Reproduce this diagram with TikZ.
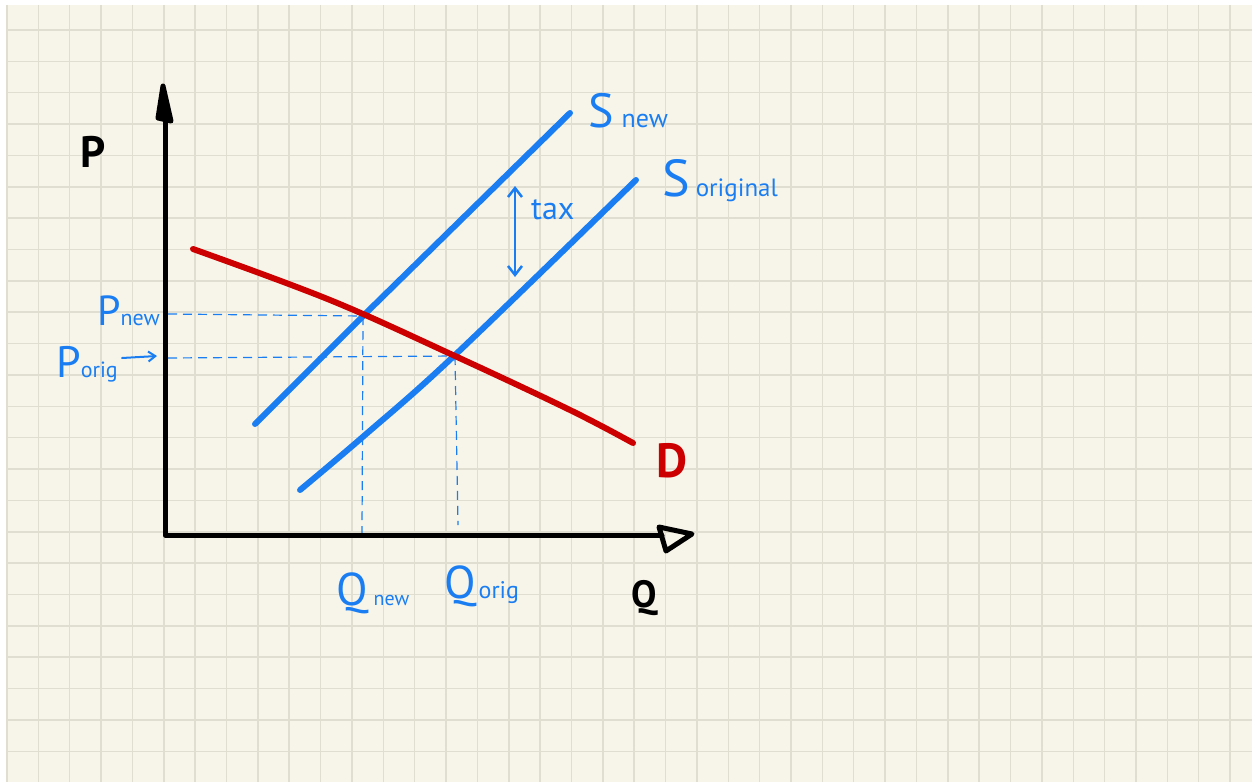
\documentclass[tikz,border=0pt]{standalone}
\usepackage{fontspec}
\setmainfont{PT Sans}
\usetikzlibrary{arrows.meta}
\definecolor{paper}{HTML}{F7F5EA}
\definecolor{gridc}{HTML}{E0DED0}
\definecolor{inkblue}{HTML}{1A7EF2}
\definecolor{inkred}{HTML}{CC0000}
\newcommand{\fs}[1]{\fontsize{#1}{#1}\selectfont}
\begin{document}
\begin{tikzpicture}[x=1pt,y=-1pt,
  axis/.style={line width=5pt,line cap=round,line join=round},
  curve/.style={line width=6pt,line cap=round,line join=round},
  guide/.style={inkblue,line width=1.2pt,dash pattern=on 9pt off 6pt},
  lbl/.style={inkblue,inner sep=0pt,anchor=base west},
  blk/.style={black,inner sep=0pt,anchor=base west,font=\bfseries},
  gridline/.style={gridc,line width=1.5pt}]
\useasboundingbox (0,0) rectangle (1252,782);
\fill[white] (0,0) rectangle (1252,782);
\fill[paper] (7,5) rectangle (1252,782);
\foreach \k in {0,...,39} {
  \pgfmathsetmacro{\gx}{7+31.36*\k}
  \draw[gridline] (\gx,5) -- (\gx,782);
}
\foreach \k in {0,...,23} {
  \pgfmathsetmacro{\gy}{30+31.36*\k}
  \draw[gridline] (7,\gy) -- (1252,\gy);
}

% key points
\coordinate (O) at (165,535);
\coordinate (ytop) at (165,120);
\coordinate (xend) at (662,535);
\coordinate (Enew) at (363,316);
\coordinate (Eorig) at (455,356);
\coordinate (Pnewax) at (168,314);
\coordinate (Porigax) at (168,358);
\coordinate (Qnewax) at (362,533);
\coordinate (Qorigend) at (458,525);
\coordinate (SnewA) at (255,424);
\coordinate (SnewB) at (570,113);
\coordinate (taxtop) at (515,186);
\coordinate (taxbot) at (515,277);
\coordinate (parrA) at (122,358);
\coordinate (parrB) at (157,356);

% dashed guides
\draw[guide] (Pnewax) -- (Enew);
\draw[guide] (Porigax) -- (Eorig);
\draw[guide] (Enew) -- (Qnewax);
\draw[guide] (Eorig) -- (Qorigend);

% axes
\draw[axis] (ytop) -- (O) -- (xend);
\draw[axis,fill=black] (163,86) -- (158,118) -- (171,121) -- cycle;
\draw[axis] (659,527) -- (692,534) -- (666,551) -- cycle;

% supply curves
\draw[curve,inkblue] (SnewA) -- (Enew) -- (SnewB);
\draw[curve,inkblue] plot[smooth,tension=0.6] coordinates {(300,490) (365,435) (455,355) (636,180)};

% demand
\draw[curve,inkred] plot[smooth,tension=0.6] coordinates {(193,249) (330,300) (455,356) (570,410) (633,443)};

% tax arrow
\draw[inkblue,line width=2.5pt,line cap=round,{Straight Barb[length=9pt,width=14pt]}-{Straight Barb[length=9pt,width=14pt]}] (taxtop) -- (taxbot);
\draw[inkblue,line width=2pt,line cap=round,-{Straight Barb[length=7pt,width=10pt]}] (parrA) -- (parrB);

% labels
\node[lbl] (Snew) at (588,127) {\fs{48}S\hspace{8pt}\fs{26}new};
\node[lbl] (Sorig) at (662,196) {\fs{52}S\hspace{6pt}\fs{25}original};
\node[lbl] (tax) at (531,219) {\fs{32}tax};
\node[lbl] (Pnew) at (97,325) {\fs{42}P\fs{22}new};
\node[lbl] (Porig) at (56,377) {\fs{44}P\fs{22}orig};
\node[lbl] (Qnew) at (336,605) {\fs{46}Q\hspace{6pt}\fs{20}new};
\node[lbl] (Qorig) at (444,598) {\fs{46}Q\hspace{3pt}\fs{24}orig};
\node[blk] (Plab) at (80,167) {\fs{44}P};
\node[blk] (Qlab) at (631,607) {\fs{38}Q};
\node[blk,text=inkred] (Dlab) at (656,477) {\fs{48}D};
\end{tikzpicture}
\end{document}
